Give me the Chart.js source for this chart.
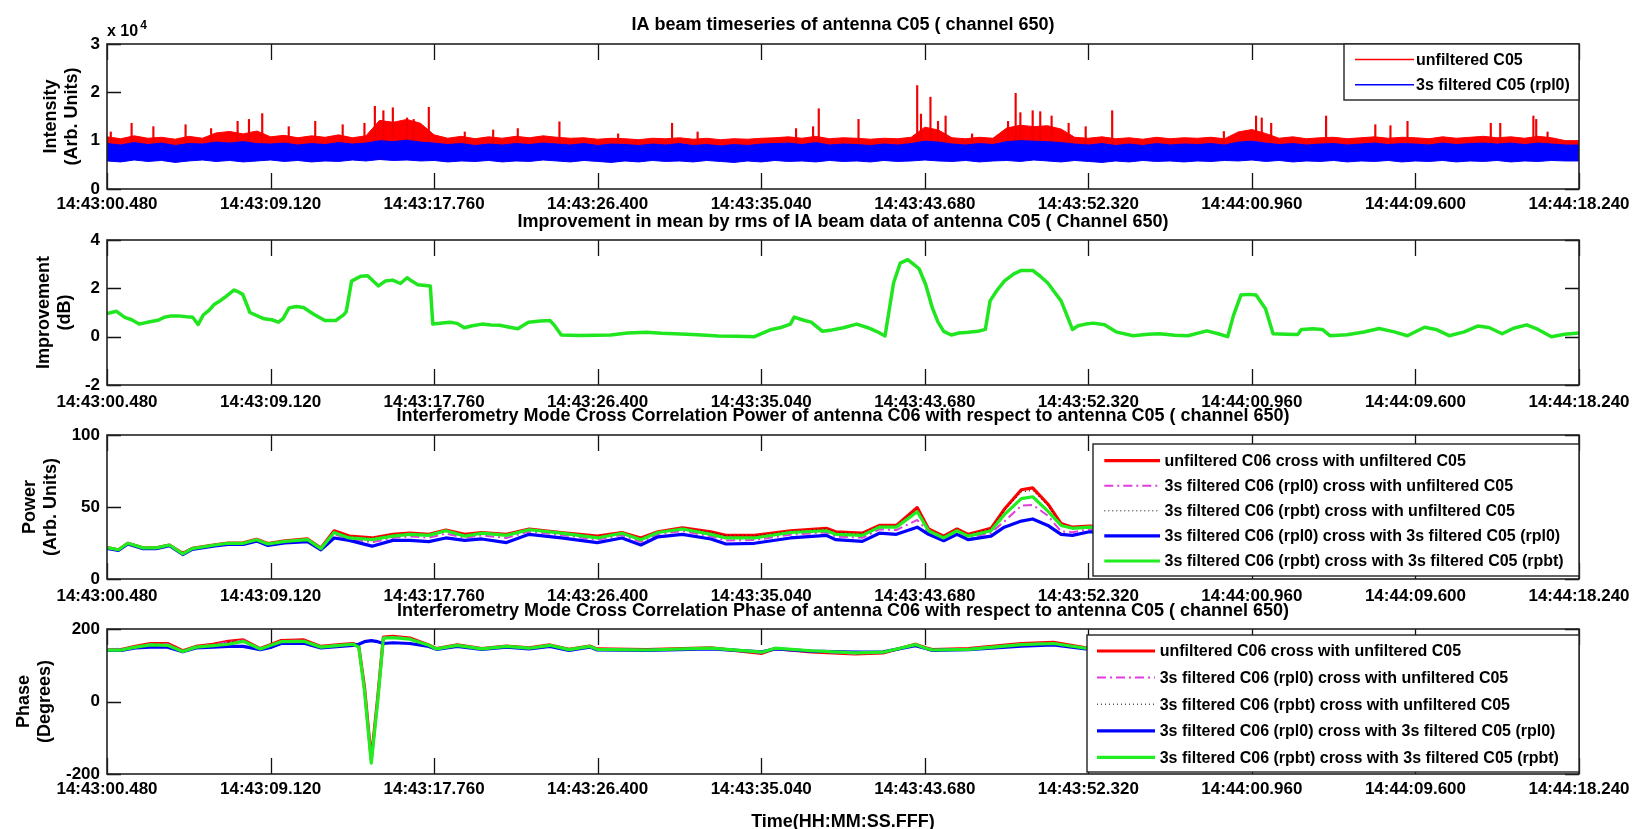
<!DOCTYPE html>
<html>
<head>
<meta charset="utf-8">
<title>IA beam timeseries C05</title>
<script src="https://cdn.jsdelivr.net/npm/chart.js@4/dist/chart.umd.min.js"></script>
<style>
  html, body { margin: 0; padding: 0; background: #fff; }
  #wrap { position: relative; width: 1642px; height: 829px; overflow: hidden; background: #fff; }
  #wrap canvas { position: absolute; left: 0; }
</style>
</head>
<body>
<div id="wrap">
  <canvas id="c1" width="1642" height="215" style="top:0px"></canvas>
  <canvas id="c2" width="1642" height="215" style="top:200px"></canvas>
  <canvas id="c3" width="1642" height="216" style="top:394px"></canvas>
  <canvas id="c4" width="1642" height="240" style="top:589px"></canvas>
</div>
<script>
const FONT = "'Liberation Sans', Arial, Helvetica, sans-serif";

// time axis, seconds after 14:43:00.480
const xTickLabels = ['14:43:00.480', '14:43:09.120', '14:43:17.760', '14:43:26.400', '14:43:35.040',
  '14:43:43.680', '14:43:52.320', '14:44:00.960', '14:44:09.600', '14:44:18.240'];
const xTickStep = 8.64;
const xEnd = 77.76;

// ---- panel 1 : IA beam timeseries (envelopes of the dense trace, one value every 0.72 s)
const intStep = 0.72;
const intUnfiltTop = [
  10800, 10400, 11000, 10500, 10700, 10300, 10900, 10500, 11600, 11900,
  11400, 12000, 10800, 11100, 10600, 11000, 10700, 11200, 10600, 11000,
  14200, 13800, 14400, 13600, 11200, 10500, 10900, 10400, 10800, 10500,
  10900, 10600, 11000, 10700, 10500, 10600, 10300, 10500, 10400, 10200,
  10500, 10400, 10600, 10300, 10500, 10200, 10400, 10300, 10500, 10600,
  10800, 10500, 10900, 10400, 10600, 10500, 10300, 10500, 10400, 10700,
  12800, 12200, 10600, 10400, 10700, 10500, 12600, 13200, 12900, 13100,
  12400, 10700, 10500, 10800, 10400, 10600, 10300, 10700, 10400, 10600,
  10500, 10700, 10400, 11800, 12300, 11500, 10500, 10800, 10400, 10600,
  10700, 10400, 10600, 10800, 10500, 10700, 10600, 10400, 10800, 10500,
  10700, 10900, 10600, 10800, 10500, 10900, 10600, 10000, 10000
];
const intFiltTop = [
  9400, 9100, 9600, 9200, 9500, 9000, 9400, 9300, 9700, 9500,
  9800, 9400, 9300, 9500, 9100, 9400, 9200, 9600, 9300, 9500,
  10000, 9800, 10100, 9700, 9500, 9200, 9400, 9000, 9300, 9100,
  9400, 9200, 9500, 9300, 9100, 9400, 9000, 9300, 9200, 9000,
  9300, 9100, 9400, 9000, 9200, 8900, 9200, 9000, 9300, 9400,
  9500, 9200, 9600, 9100, 9300, 9200, 9000, 9300, 9100, 9400,
  9900, 9700, 9300, 9100, 9400, 9200, 9800, 10000, 9900, 9800,
  9600, 9300, 9100, 9400, 9000, 9300, 9000, 9400, 9100, 9300,
  9200, 9400, 9100, 9700, 9900, 9500, 9200, 9400, 9100, 9300,
  9400, 9100, 9300, 9500, 9200, 9400, 9300, 9100, 9500, 9200,
  9400, 9500, 9300, 9500, 9200, 9500, 9300, 9100, 9100
];
const intFiltBottom = [
  5800, 5600, 6000, 5700, 5900, 5500, 5800, 6000, 5700, 5900,
  5600, 5800, 6000, 5700, 5900, 5600, 5800, 5700, 6000, 5800,
  6100, 5900, 6000, 5800, 5900, 5600, 5800, 5700, 5900, 5600,
  5800, 5700, 6000, 5800, 5600, 5900, 5700, 5500, 5800, 5600,
  5900, 5700, 5800, 5600, 5900, 5700, 5500, 5800, 5600, 5900,
  5700, 5800, 5600, 5900, 5700, 5800, 5600, 5900, 5700, 5800,
  6000, 5800, 5700, 5900, 5600, 5800, 5900, 5700, 6000, 5800,
  5600, 5900, 5700, 5500, 5800, 5600, 5900, 5700, 5800, 5600,
  5800, 5700, 5900, 5800, 6000, 5700, 5900, 5600, 5800, 5700,
  5900, 5600, 5800, 5700, 5900, 5600, 5800, 5700, 5900, 5600,
  5800, 5700, 5900, 5600, 5800, 5700, 5900, 5800, 5800
];
// isolated RFI spikes of the unfiltered trace
const spikeTimes = [0.2, 1.3, 2.45, 4.15, 5.5, 6.9, 7.5, 8.2, 9.6, 11.0,
  12.45, 13.6, 14.15, 14.6, 15.1, 15.85, 16.2, 17.0, 18.9, 20.4,
  21.7, 23.9, 27.0, 29.85, 31.2, 36.4, 37.3, 37.6, 39.7, 42.8,
  43.0, 43.5, 43.9, 44.3, 45.7, 47.6, 48.0, 48.25, 48.9, 49.3,
  49.9, 50.8, 51.7, 53.1, 59.0, 60.7, 61.0, 61.5, 64.4, 67.0,
  67.8, 68.7, 73.1, 73.6, 75.35, 75.5, 76.1];
const spikeValues = [11800, 13600, 12900, 13300, 12500, 14000, 14400, 15600, 12900, 14000,
  13300, 13600, 17100, 16200, 16800, 14700, 14400, 16900, 11800, 12200,
  12500, 13900, 11400, 13600, 11800, 12500, 12900, 16600, 14400, 21400,
  15500, 19000, 14000, 15100, 11400, 14000, 19800, 15800, 16200, 16000,
  15100, 13600, 12900, 16200, 11900, 15100, 14700, 13600, 15100, 13300,
  13100, 14000, 13600, 13600, 15100, 14400, 11800];
const intYTicks = [0, 10000, 20000, 30000];

// ---- panel 2 : improvement (dB)
const imprTimes = [0, 0.5, 0.94, 1.3, 1.7, 2.26, 2.7, 3.02, 3.4, 3.77, 4.2, 4.53, 4.81, 5.09, 5.4, 5.66, 6.0, 6.23,
  6.7, 6.95, 7.17, 7.4, 7.55, 8.3, 8.7, 9.06, 9.3, 9.62, 10.0, 10.38, 10.94, 11.51, 12.08, 12.5, 12.64, 12.92,
  13.4, 13.77, 14.34, 14.7, 15.09, 15.5, 15.85, 16.1, 16.42, 17.08, 17.21, 18.11, 18.5, 18.87, 19.3, 19.81,
  20.3, 20.75, 21.2, 21.7, 22.26, 22.9, 23.4, 23.6, 24.0, 25.0, 26.6, 27.5, 28.5, 29.3, 30.0, 31.2, 32.3,
  33.3, 34.2, 35.1, 35.6, 36.1, 36.3, 36.8, 37.2, 37.8, 38.3, 38.9, 39.6, 40.2, 40.7, 41.1, 41.55, 41.9,
  42.3, 42.6, 42.9, 43.25, 43.6, 43.9, 44.2, 44.6, 45.0, 45.5, 46.0, 46.4, 46.65, 47.0, 47.4, 47.9, 48.3,
  48.9, 49.3, 49.7, 50.0, 50.4, 50.7, 51.0, 51.3, 51.7, 52.1, 52.7, 53.3, 54.2, 55.0, 55.6, 56.4, 57.1,
  58.1, 58.7, 59.2, 59.5, 59.9, 60.3, 60.7, 61.2, 61.6, 62.3, 62.9, 63.1, 63.7, 64.2, 64.6, 65.5, 66.4,
  67.2, 68.0, 68.7, 69.6, 70.2, 70.9, 71.7, 72.4, 73.0, 73.7, 74.3, 75.0, 75.6, 76.3, 77.0, 77.76];
const imprValues = [0.96, 1.05, 0.8, 0.7, 0.52, 0.62, 0.68, 0.8, 0.86, 0.86, 0.82, 0.8, 0.5, 0.9, 1.1, 1.33, 1.5, 1.63,
  1.93, 1.85, 1.75, 1.3, 1.0, 0.74, 0.7, 0.6, 0.75, 1.19, 1.25, 1.21, 0.92, 0.67, 0.67, 0.9, 1.04, 2.3,
  2.5, 2.52, 2.1, 2.3, 2.34, 2.2, 2.44, 2.3, 2.15, 2.1, 0.52, 0.6, 0.55, 0.37, 0.45, 0.52,
  0.48, 0.47, 0.4, 0.33, 0.6, 0.65, 0.67, 0.5, 0.07, 0.05, 0.07, 0.15, 0.18, 0.14, 0.12, 0.08, 0.03,
  0.02, 0.0, 0.3, 0.38, 0.52, 0.81, 0.68, 0.6, 0.22, 0.28, 0.37, 0.52, 0.37, 0.2, 0.03, 2.22, 3.04,
  3.19, 3.0, 2.81, 2.15, 1.19, 0.6, 0.22, 0.07, 0.15, 0.18, 0.22, 0.3, 1.48, 1.9, 2.3, 2.6, 2.74,
  2.74, 2.5, 2.22, 1.9, 1.48, 0.9, 0.3, 0.45, 0.52, 0.56, 0.49, 0.2, 0.04, 0.1, 0.12, 0.06, 0.04,
  0.24, 0.12, 0.0, 0.86, 1.72, 1.75, 1.72, 1.16, 0.12, 0.1, 0.09, 0.3, 0.33, 0.3, 0.04, 0.08, 0.19,
  0.34, 0.2, 0.04, 0.39, 0.3, 0.04, 0.2, 0.44, 0.38, 0.12, 0.35, 0.49, 0.3, 0.0, 0.1, 0.15];
const imprYTicks = [-2, 0, 2, 4];

// ---- cross correlation series names (panels 3 and 4)
const crossNames = [
  'unfiltered C06 cross with unfiltered C05',
  '3s filtered C06 (rpl0) cross with unfiltered C05',
  '3s filtered C06 (rpbt) cross with unfiltered C05',
  '3s filtered C06 (rpl0) cross with 3s filtered C05 (rpl0)',
  '3s filtered C06 (rpbt) cross with 3s filtered C05 (rpbt)'
];

// ---- panel 3 : cross correlation power
const powTimes = [0, 0.6, 1.1, 1.9, 2.6, 3.3, 4.0, 4.5, 5.7, 6.4, 7.2, 7.9, 8.5, 9.4, 10.6, 11.3, 12.0, 12.8,
  14.0, 15.1, 16.0, 17.0, 17.9, 18.9, 19.8, 21.1, 22.3, 24.0, 25.9, 27.2, 28.2, 29.1, 30.4, 31.9, 32.7,
  34.2, 36.1, 38.0, 38.5, 39.9, 40.8, 41.7, 42.8, 43.4, 44.2, 44.9, 45.5, 46.7, 47.4, 48.3, 48.9, 49.7,
  50.4, 51.0, 51.9, 54, 58, 62, 66, 70, 74, 77.76];
const powUnfilt = [21.8, 20.3, 24.8, 21.6, 21.6, 23.6, 17.8, 21.3, 23.8, 25.0, 25.1, 27.6, 24.6, 26.5, 27.8, 21.5,
  33.5, 29.8, 28.5, 31.0, 31.8, 31.0, 34.0, 31.0, 32.3, 31.0, 34.7, 32.3, 29.8, 32.3, 28.5, 32.8, 35.5, 32.8,
  30.3, 30.3, 33.5, 35.2, 32.8, 31.8, 37.2, 37.2, 49.6, 34.7, 29.8, 34.7, 31.0, 35.2, 48.4, 62.0, 63.3, 52.1,
  38.5, 36.0, 36.7, 36, 34, 32, 31, 33, 32, 31];
const powRpl0Unfilt = [21.6, 20.1, 24.6, 21.4, 21.4, 23.4, 17.2, 20.9, 23.3, 24.4, 24.4, 26.8, 23.8, 25.6, 26.7, 20.8,
  31.0, 27.8, 25.5, 28.6, 29.5, 28.7, 31.5, 28.6, 30.3, 28.5, 33.0, 30.5, 27.3, 30.5, 25.8, 31.2, 33.3, 29.6,
  26.8, 27.0, 30.8, 32.3, 29.5, 28.6, 34.4, 34.0, 41.0, 32.6, 27.8, 32.6, 28.8, 32.0, 40.0, 50.9, 51.5, 44.0,
  33.0, 32.5, 34.5, 34, 32, 30, 29, 31, 30, 29];
const powRpbtUnfilt = [21.8, 20.3, 24.8, 21.6, 21.6, 23.6, 17.7, 21.2, 23.7, 24.9, 25.0, 27.5, 24.5, 26.3, 27.6, 21.4,
  33.2, 29.5, 28.2, 30.7, 31.5, 30.8, 33.8, 30.7, 32.1, 30.8, 34.5, 32.1, 29.5, 32.1, 28.2, 32.6, 35.3, 32.5,
  30.0, 30.0, 33.2, 34.9, 32.5, 31.5, 36.9, 36.9, 48.5, 34.4, 29.5, 34.4, 30.7, 34.9, 47.5, 60.5, 61.5, 51.0,
  38.0, 35.8, 36.5, 35.8, 33.8, 31.8, 30.8, 32.8, 31.8, 30.8];
const powRpl0Rpl0 = [21.3, 19.8, 24.3, 21.1, 21.1, 23.1, 17.0, 20.6, 23.0, 24.0, 24.0, 26.3, 23.3, 25.0, 26.0, 20.3,
  28.5, 26.8, 22.8, 26.8, 26.8, 26.0, 28.5, 26.8, 27.8, 25.3, 31.0, 28.5, 25.3, 28.5, 23.6, 29.3, 31.0, 27.8,
  24.3, 24.8, 28.5, 30.3, 27.3, 26.1, 31.8, 31.0, 36.0, 31.0, 26.6, 31.0, 27.3, 29.8, 36.0, 40.2, 41.7, 37.2,
  31.0, 30.3, 32.8, 32, 30, 28, 27, 29, 28, 27];
const powRpbtRpbt = [21.8, 20.3, 24.8, 21.6, 21.6, 23.6, 17.4, 21.1, 23.6, 24.8, 24.8, 27.3, 24.3, 26.1, 27.3, 21.1,
  32.3, 28.5, 27.3, 29.8, 31.0, 30.3, 33.5, 29.8, 31.8, 30.3, 34.2, 31.8, 28.5, 31.8, 27.3, 32.3, 34.7, 31.0,
  28.5, 28.5, 32.3, 33.5, 31.0, 30.3, 36.0, 36.0, 46.7, 33.5, 28.5, 33.5, 29.8, 33.5, 44.7, 55.8, 57.1, 47.1,
  37.2, 35.2, 36.0, 35, 33, 31, 30, 32, 31, 30];
const powYTicks = [0, 50, 100];

// ---- panel 4 : cross correlation phase (degrees)
const phTimes = [0, 0.75, 1.5, 2.3, 3.2, 4.0, 4.7, 5.6, 6.4, 7.2, 8.1, 8.7, 9.2, 10.4, 11.3, 12.3, 13.0, 13.3,
  13.6, 13.96, 14.3, 14.6, 15.1, 16.0, 17.0, 17.4, 18.5, 19.8, 21.1, 22.3, 23.4, 24.4, 25.5, 25.9, 28.5,
  31.9, 34.6, 35.3, 37.2, 39.5, 41.0, 42.7, 43.25, 43.6, 45.5, 48.3, 50.0, 51.7, 56, 62, 68, 74, 77.76];
const phUnfilt = [142, 143, 152, 160, 160, 140, 152, 158, 166, 170, 146, 158, 168, 170, 152, 157, 160, 152,
  40, -160, 10, 178, 180, 175, 156, 146, 156, 146, 153, 148, 156, 144, 153, 145, 143,
  148, 133, 146, 137, 131, 134, 158, 148, 143, 146, 160, 163, 148, 151, 149, 151, 150, 151];
const phRpl0Unfilt = [142, 143, 151, 158, 158, 139, 151, 156, 164, 168, 146, 157, 167, 168, 151, 156, 159, 151,
  35, -165, 5, 177, 178, 174, 155, 145, 155, 145, 152, 147, 155, 143, 152, 144, 142,
  147, 134, 146, 138, 132, 135, 157, 147, 142, 145, 158, 161, 147, 150, 148, 150, 149, 150];
const phRpbtUnfilt = [142, 142, 151, 157, 157, 139, 151, 155, 163, 168, 145, 157, 166, 168, 151, 156, 159, 151,
  32, -168, 2, 176, 178, 173, 155, 145, 155, 145, 152, 147, 155, 143, 152, 144, 142,
  147, 135, 146, 139, 133, 135, 157, 147, 142, 145, 158, 161, 147, 150, 148, 150, 149, 150];
const phRpl0Rpl0 = [141, 141, 148, 150, 150, 137, 148, 150, 152, 152, 143, 150, 160, 161, 148, 152, 155, 158,
  165, 168, 165, 160, 162, 160, 152, 144, 152, 144, 150, 145, 152, 141, 150, 142, 141,
  145, 137, 145, 139, 136, 137, 154, 146, 141, 143, 153, 156, 145, 148, 146, 148, 147, 148];
const phRpbtRpbt = [142, 142, 150, 156, 155, 138, 150, 154, 158, 166, 145, 156, 165, 166, 150, 155, 158, 150,
  30, -170, 0, 175, 176, 172, 155, 145, 155, 145, 152, 147, 155, 143, 152, 144, 142,
  147, 136, 147, 140, 134, 136, 157, 147, 142, 144, 157, 160, 147, 150, 148, 150, 149, 150];
const phYTicks = [-200, 0, 200];

// ------------------------------------------------------------------
const pts = (ts, vs) => vs.map((v, i) => ({ x: ts[i], y: v }));
const intTimes = intUnfiltTop.map((_, i) => +(i * intStep).toFixed(2));
// spikes drawn as thin floating bars starting inside the blue band
const spikeBase = 9000;
const spikeBars = spikeValues.map((v, i) => ({ x: spikeTimes[i], y: [spikeBase, v] }));

const crossStyles = [
  { borderColor: '#ff0000', borderWidth: 3.2 },
  { borderColor: '#e03ce0', borderWidth: 2, borderDash: [9, 4, 2, 4] },
  { borderColor: '#000000', borderWidth: 1, borderDash: [1, 3] },
  { borderColor: '#0000ff', borderWidth: 3.2 },
  { borderColor: '#20ee20', borderWidth: 3.2 }
];

function crossSets(series, times) {
  return series.map((vals, i) => Object.assign({
    label: crossNames[i],
    data: pts(times, vals),
    order: series.length - i,
    pointRadius: 0,
    fill: false,
    tension: 0,
    borderJoinStyle: 'round'
  }, crossStyles[i]));
}

// inward tick marks + box, matlab style
const matlabAxes = {
  id: 'matlabAxes',
  beforeDatasetsDraw(chart) {
    const { ctx, chartArea: a, scales: { x, y } } = chart;
    ctx.save();
    ctx.strokeStyle = '#111';
    ctx.lineWidth = 1.3;
    ctx.beginPath();
    x.ticks.forEach(t => {
      const px = Math.round(x.getPixelForValue(t.value)) + 0.5;
      ctx.moveTo(px, a.top); ctx.lineTo(px, a.top + 16);
      ctx.moveTo(px, a.bottom); ctx.lineTo(px, a.bottom - 16);
    });
    y.ticks.forEach(t => {
      const py = Math.round(y.getPixelForValue(t.value)) + 0.5;
      ctx.moveTo(a.left, py); ctx.lineTo(a.left + 14, py);
      ctx.moveTo(a.right, py); ctx.lineTo(a.right - 14, py);
    });
    ctx.stroke();
    ctx.restore();
  },
  afterDatasetsDraw(chart) {
    const { ctx, chartArea: a } = chart;
    ctx.save();
    ctx.strokeStyle = '#222';
    ctx.lineWidth = 1.6;
    ctx.strokeRect(a.left, a.top, a.right - a.left, a.bottom - a.top);
    ctx.restore();
  }
};

// legend box drawn inside the axes
const boxLegend = {
  id: 'boxLegend',
  afterDatasetsDraw(chart, args, o) {
    if (!o || !o.w) return;
    const { ctx, chartArea: a } = chart;
    const left = a.right - o.w, top = a.top + o.top;
    ctx.save();
    ctx.fillStyle = '#fff';
    ctx.fillRect(left, top, o.w, o.h);
    ctx.strokeStyle = '#222';
    ctx.lineWidth = 1.4;
    ctx.strokeRect(left, top, o.w, o.h);
    ctx.font = 'bold ' + o.size + 'px ' + FONT;
    ctx.textBaseline = 'middle';
    let row = 0;
    chart.data.datasets.forEach(ds => {
      if (!ds.label) return;
      const yy = top + o.first + row * o.step;
      ctx.save();
      ctx.strokeStyle = ds.borderColor;
      ctx.lineWidth = o.lineWidth || ds.borderWidth;
      ctx.setLineDash(ds.borderDash || []);
      ctx.beginPath();
      ctx.moveTo(left + o.x0, yy);
      ctx.lineTo(left + o.x1, yy);
      ctx.stroke();
      ctx.restore();
      ctx.fillStyle = '#000';
      ctx.fillText(ds.label, left + o.tx, yy + 1);
      row++;
    });
    ctx.restore();
  }
};

// "x 10^4" multiplier above the intensity axis
const expLabel = {
  id: 'expLabel',
  afterDraw(chart) {
    const { ctx, chartArea: a } = chart;
    ctx.save();
    ctx.fillStyle = '#000';
    ctx.textBaseline = 'alphabetic';
    ctx.font = 'bold 16px ' + FONT;
    ctx.fillText('x 10', a.left, a.top - 8);
    const w = ctx.measureText('x 10').width;
    ctx.font = 'bold 12px ' + FONT;
    ctx.fillText('4', a.left + w + 2, a.top - 15);
    ctx.restore();
  }
};

function makeChart(id, p) {
  const tickFont = { family: FONT, size: 17, weight: 'bold' };
  return new Chart(document.getElementById(id), {
    type: 'line',
    data: { datasets: p.datasets },
    options: {
      responsive: false,
      animation: false,
      devicePixelRatio: 1,
      events: [],
      layout: { padding: { left: 0, right: 63, top: 0, bottom: 0 } },
      plugins: {
        legend: { display: false },
        tooltip: { enabled: false },
        title: {
          display: true, fullSize: false, text: p.title, color: '#000',
          font: { family: FONT, size: 18, weight: 'bold', lineHeight: '24px' },
          padding: { top: p.titleTop, bottom: p.titleBottom }
        },
        boxLegend: p.legend || {}
      },
      scales: {
        x: {
          type: 'linear', min: 0, max: xEnd, offset: false,
          grid: { display: false, drawTicks: false, offset: false },
          border: { display: false },
          afterBuildTicks: s => { s.ticks = xTickLabels.map((_, i) => ({ value: +(i * xTickStep).toFixed(2) })); },
          afterFit: s => { s.height = p.xHeight; },
          ticks: {
            autoSkip: false, maxRotation: 0, minRotation: 0, padding: p.xPad, color: '#000', font: tickFont,
            callback: (v, i) => xTickLabels[i]
          },
          title: p.xTitle ? {
            display: true, text: p.xTitle, color: '#000',
            font: { family: FONT, size: 18, weight: 'bold', lineHeight: '24px' },
            padding: { top: 0, bottom: -5 }
          } : { display: false }
        },
        y: {
          type: 'linear', min: p.yTicks[0], max: p.yTicks[p.yTicks.length - 1],
          grid: { display: false, drawTicks: false },
          border: { display: false },
          afterBuildTicks: s => { s.ticks = p.yTicks.map(v => ({ value: v })); },
          afterFit: s => { s.width = 107; },
          ticks: { padding: 7, color: '#000', font: tickFont, callback: p.yFormat || (v => v) },
          title: {
            display: true, text: p.yTitle, color: '#000',
            font: { family: FONT, size: 18, weight: 'bold', lineHeight: '21px' },
            padding: { top: p.yTitlePad, bottom: 0 }
          }
        }
      }
    },
    plugins: [matlabAxes, boxLegend].concat(p.extra || [])
  });
}

// panel 1
makeChart('c1', {
  title: 'IA beam timeseries of antenna C05 ( channel 650)',
  titleTop: 13, titleBottom: 7, xHeight: 26, xPad: 5,
  yTicks: intYTicks, yFormat: v => v / 10000,
  yTitle: ['Intensity', '(Arb. Units)'], yTitlePad: 40.5,
  legend: { w: 235, h: 56, top: 0, first: 15.5, step: 25.3, x0: 11, x1: 70, tx: 72, size: 16, lineWidth: 1.5 },
  extra: [expLabel],
  datasets: [
    { label: 'unfiltered C05', data: pts(intTimes, intUnfiltTop), order: 4, borderColor: '#ff0000',
      backgroundColor: '#ff0000', borderWidth: 1, pointRadius: 0, tension: 0, fill: { target: { value: 6000 } } },
    { type: 'bar', data: spikeBars, order: 3, backgroundColor: '#f00000',
      borderWidth: 0, barThickness: 1.5, grouped: false },
    { label: '3s filtered C05 (rpl0)', data: pts(intTimes, intFiltTop), order: 2, borderColor: '#0000ff',
      backgroundColor: '#0000ff', borderWidth: 1, pointRadius: 0, tension: 0, fill: '+1' },
    { data: pts(intTimes, intFiltBottom), order: 1, borderColor: '#0000ff', borderWidth: 1,
      pointRadius: 0, tension: 0, fill: false }
  ]
});

// panel 2
makeChart('c2', {
  title: 'Improvement in mean by rms of IA beam data of antenna C05 ( Channel 650)',
  titleTop: 10, titleBottom: 6, xHeight: 30, xPad: 7,
  yTicks: imprYTicks,
  yTitle: ['Improvement', '(dB)'], yTitlePad: 33.5,
  datasets: [
    { data: pts(imprTimes, imprValues), borderColor: '#20e620', borderWidth: 3.5, pointRadius: 0,
      tension: 0, fill: false, borderJoinStyle: 'round' }
  ]
});

// panel 3
makeChart('c3', {
  title: 'Interferometry Mode Cross Correlation Power of antenna C06 with respect to antenna C05 ( channel 650)',
  titleTop: 10, titleBottom: 7, xHeight: 31, xPad: 7,
  yTicks: powYTicks,
  yTitle: ['Power', '(Arb. Units)'], yTitlePad: 19.5,
  legend: { w: 486, h: 132, top: 9, first: 16.6, step: 25.1, x0: 11.3, x1: 67, tx: 71.5, size: 16 },
  datasets: crossSets([powUnfilt, powRpl0Unfilt, powRpbtUnfilt, powRpl0Rpl0, powRpbtRpbt], powTimes)
});

// panel 4
makeChart('c4', {
  title: 'Interferometry Mode Cross Correlation Phase of antenna C06 with respect to antenna C05 ( channel 650)',
  titleTop: 10, titleBottom: 6, xHeight: 55, xPad: 5,
  xTitle: 'Time(HH:MM:SS.FFF)',
  yTicks: phYTicks,
  yTitle: ['Phase', '(Degrees)'], yTitlePad: 13.5,
  legend: { w: 492, h: 137, top: 6, first: 16, step: 26.6, x0: 10, x1: 68, tx: 72.7, size: 16 },
  datasets: crossSets([phUnfilt, phRpl0Unfilt, phRpbtUnfilt, phRpl0Rpl0, phRpbtRpbt], phTimes)
});
</script>
</body>
</html>
